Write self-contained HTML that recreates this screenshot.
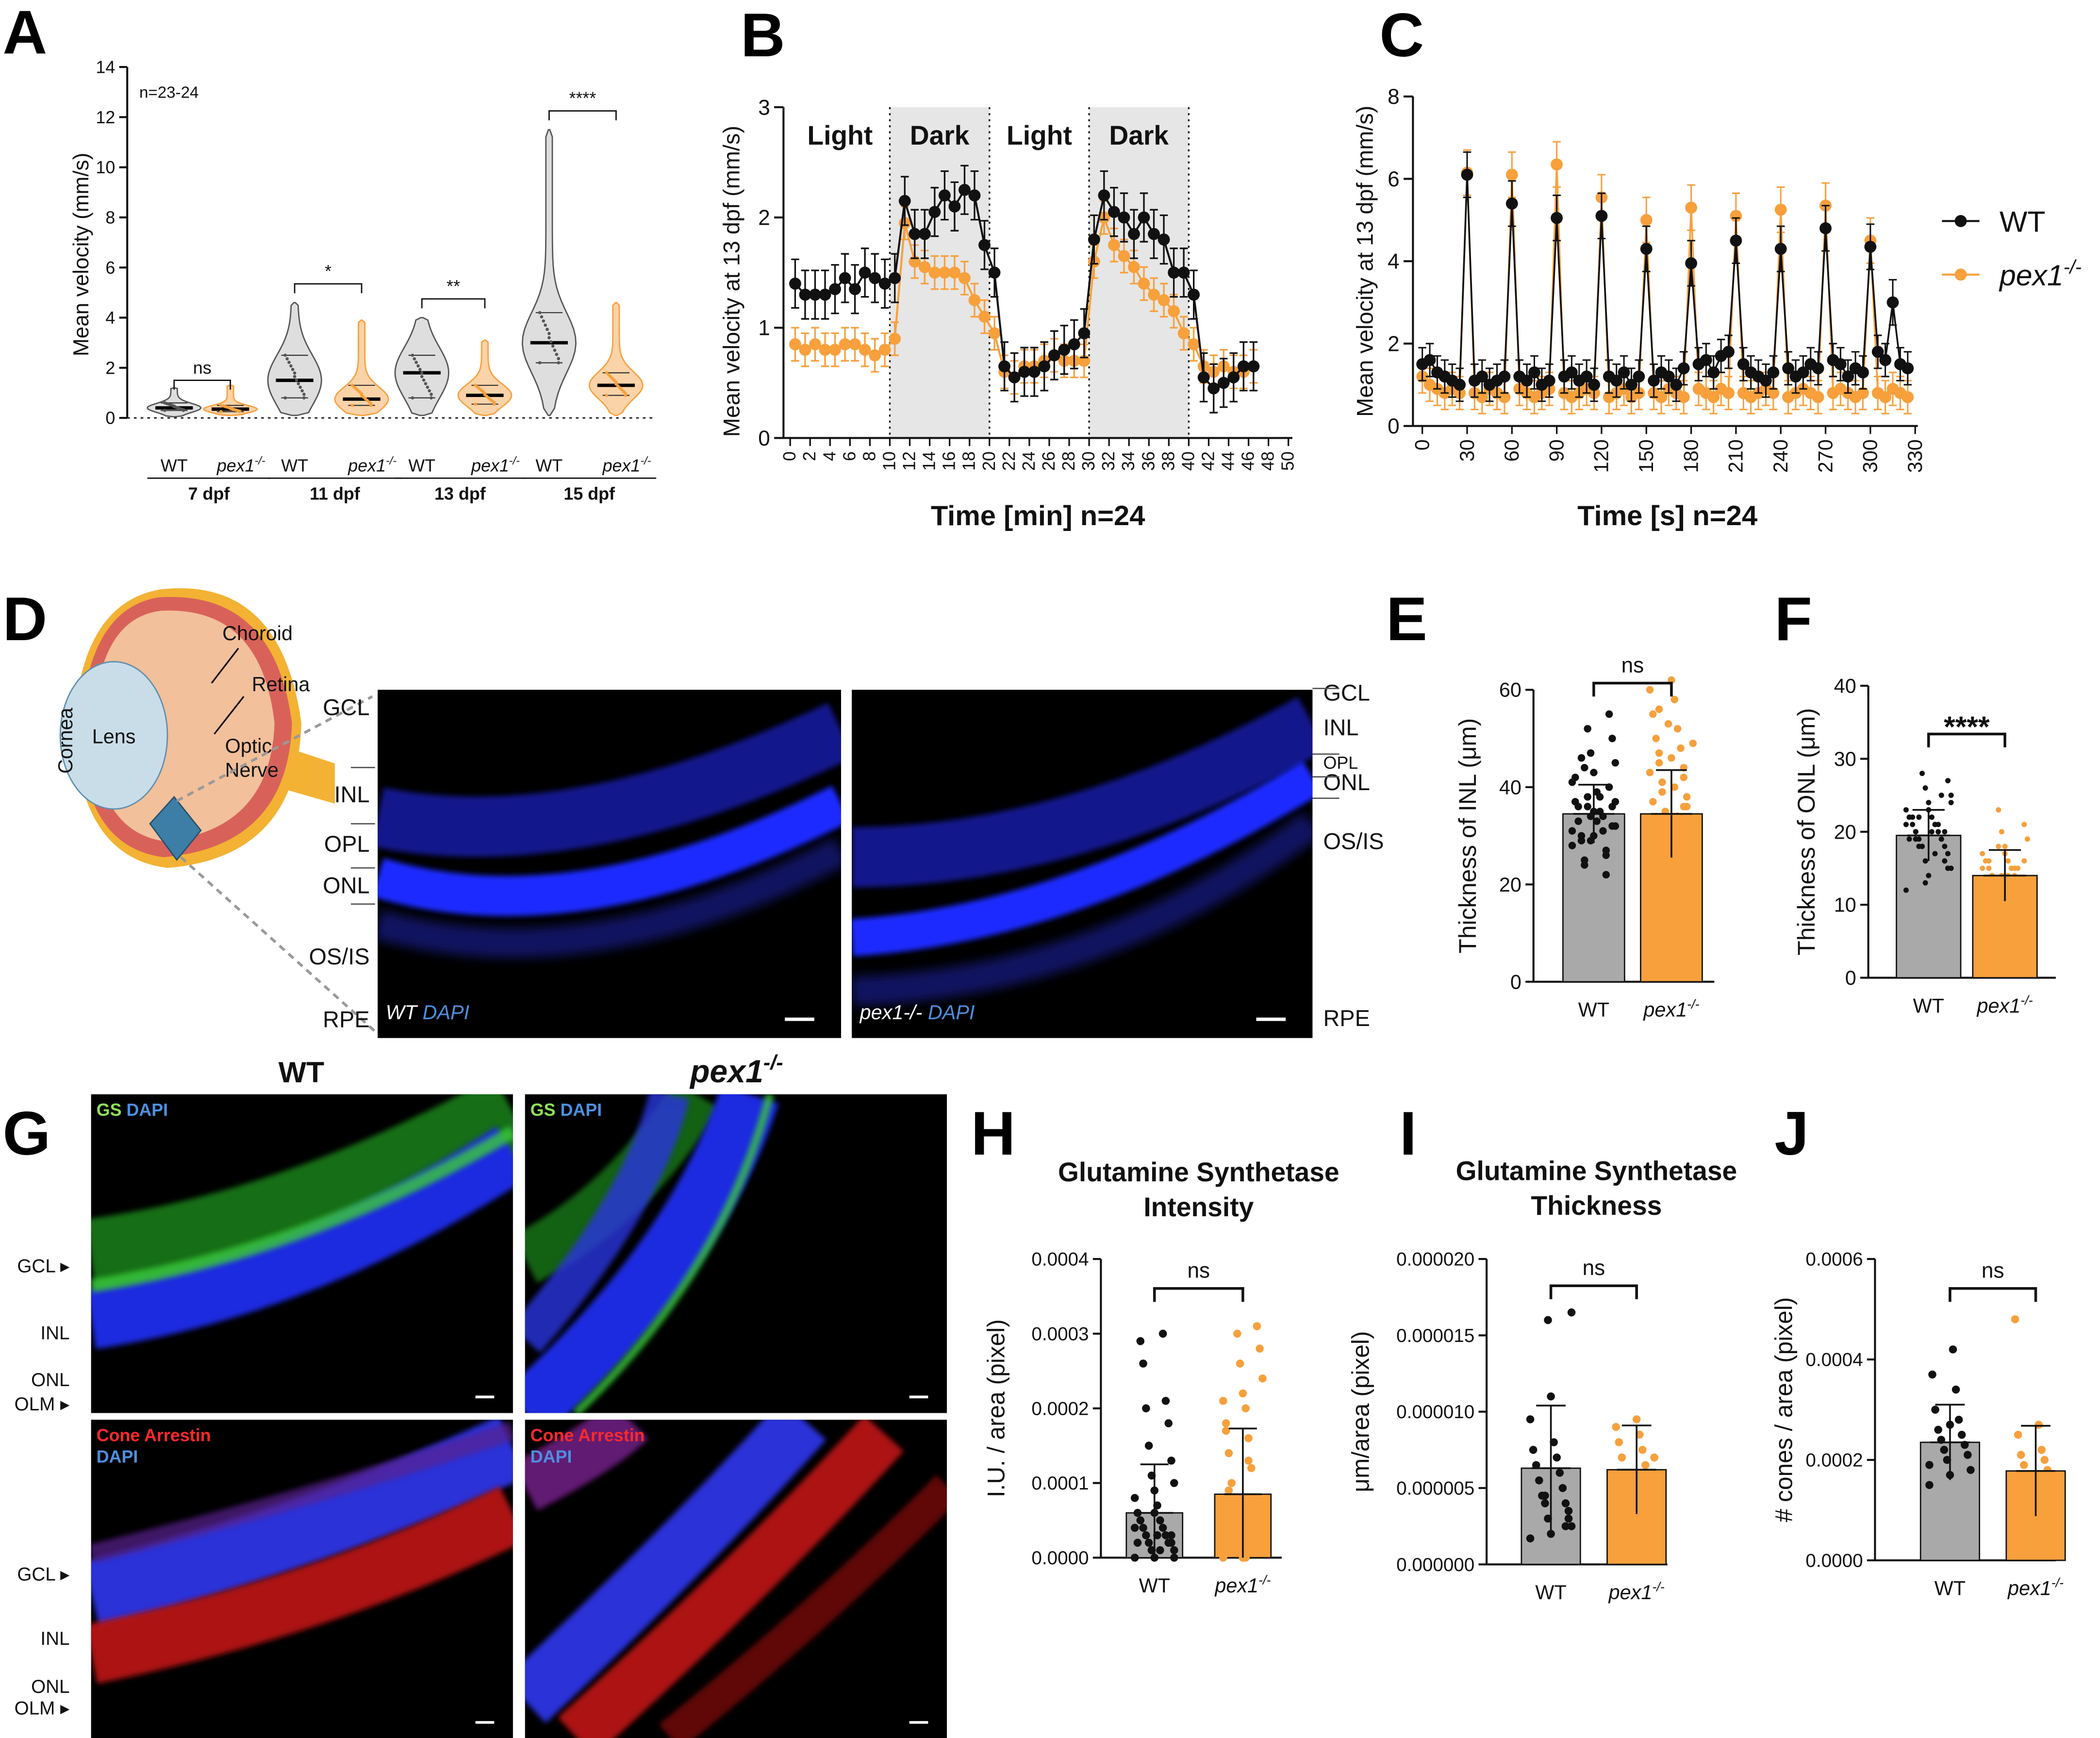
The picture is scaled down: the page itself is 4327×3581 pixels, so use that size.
<!DOCTYPE html>
<html><head><meta charset="utf-8"><style>
html,body{margin:0;padding:0;background:#fff}
svg{display:block}
text{font-family:"Liberation Sans",Arial,sans-serif}
</style></head><body>
<svg id="fig" width="4327" height="3581" viewBox="0 0 1568 1297.6" xmlns="http://www.w3.org/2000/svg">
<defs>
<filter id="blur2" filterUnits="userSpaceOnUse" x="0" y="0" width="1568" height="1298"><feGaussianBlur stdDeviation="2"/></filter>
<filter id="blur4" filterUnits="userSpaceOnUse" x="0" y="0" width="1568" height="1298"><feGaussianBlur stdDeviation="4"/></filter>
</defs>
<g id="root"></g>
</svg>
<script>
// ---------- DATA ----------
const aGroups=['WT','pex1','WT','pex1','WT','pex1','WT','pex1'];
const aDays=['7 dpf','11 dpf','13 dpf','15 dpf'];
const aMedian=[0.4,0.35,1.5,0.75,1.8,0.9,3.0,1.3];
const aQ1=[0.3,0.25,0.8,0.5,0.8,0.55,2.2,0.9];
const aQ3=[0.6,0.5,2.5,1.3,2.5,1.3,4.2,1.8];
const aMin=[0.05,0.1,0.1,0.1,0.1,0.1,0.1,0.1];
const aMax=[1.2,1.3,4.6,3.9,4.0,3.1,11.5,4.6];
const aSig=['ns','*','**','****'];
const aTicks=[0,2,4,6,8,10,12,14];
const bTicks=[0,1,2,3];
const bWT=[1.4,1.3,1.3,1.3,1.35,1.45,1.35,1.5,1.45,1.4,1.45,2.15,1.85,1.85,2.05,2.2,2.1,2.25,2.2,1.75,1.5,0.65,0.55,0.6,0.6,0.65,0.75,0.8,0.85,0.95,1.8,2.2,2.05,2.0,1.85,2.0,1.85,1.8,1.5,1.5,1.3,0.55,0.45,0.5,0.55,0.65,0.65];
const bPex=[0.85,0.8,0.85,0.8,0.8,0.85,0.85,0.8,0.75,0.8,0.9,1.95,1.6,1.55,1.5,1.5,1.5,1.45,1.25,1.1,0.95,0.6,0.55,0.65,0.65,0.7,0.75,0.7,0.7,0.7,1.6,2.0,1.75,1.65,1.55,1.4,1.3,1.25,1.15,0.95,0.85,0.65,0.6,0.65,0.6,0.6,0.65];
const bErrWT=0.22, bErrPex=0.15;
const bPhases=['Light','Dark','Light','Dark'];
const cTicks=[0,2,4,6,8];
const cWT=[1.5,1.6,1.3,1.2,1.1,1.0,6.1,1.1,1.2,1.0,1.1,1.2,5.4,1.2,1.1,1.3,1.0,1.1,5.05,1.2,1.3,1.1,1.2,1.0,5.1,1.2,1.1,1.3,1.0,1.2,4.3,1.1,1.3,1.2,1.0,1.4,3.95,1.5,1.6,1.3,1.7,1.8,4.5,1.5,1.3,1.2,1.1,1.3,4.3,1.4,1.2,1.3,1.5,1.4,4.8,1.6,1.5,1.2,1.4,1.3,4.35,1.8,1.6,3.0,1.5,1.4];
const cPex=[1.2,1.0,0.9,0.8,0.9,0.8,6.15,0.8,0.7,0.9,0.8,0.7,6.1,0.9,0.8,0.7,0.8,0.9,6.35,0.8,0.7,0.8,0.9,0.8,5.55,0.7,0.8,0.9,0.7,0.8,5.0,0.8,0.7,0.9,0.8,0.7,5.3,0.9,0.8,0.7,0.9,0.8,5.1,0.8,0.7,0.8,0.9,0.8,5.25,0.7,0.8,0.9,0.8,0.7,5.35,0.8,0.9,0.8,0.7,0.8,4.5,0.8,0.7,0.9,0.8,0.7];
const eMeans=[34.5,34.5], eSD=[6,9];
const ePtsWT=[28,30,32,34,36,38,40,25,27,29,31,33,35,37,39,41,43,45,47,50,52,55,24,26,30,34,36,38,42,33,31,35,37,29,32,36,40,44,22,46];
const ePtsPex=[20,22,25,28,30,33,36,39,42,45,48,50,52,55,58,60,62,24,27,31,35,38,41,44,47,29,32,34,37,40,43,46,49,53,18,21,26,30,36,56];
const fMeans=[19.5,14], fSD=[3.5,3.5];
const fPtsWT=[12,14,15,16,17,18,18,19,19,20,20,21,21,22,22,23,24,25,26,27,28,16,18,19,20,21,22,17,19,20,21,23,24,13,15,18,20,22,25,19];
const fPtsPex=[6,8,9,10,11,12,12,13,13,14,14,15,15,16,16,17,18,19,20,21,23,10,12,13,14,15,16,11,13,14,15,17,12,14,16,18,9,13,15,14];
const hMeans=[0.00006,0.000085], hSD=[0.000065,0.000088];
const hPtsWT=[0.0000,0.0000,0.00001,0.00001,0.00002,0.00002,0.00002,0.00003,0.00003,0.00004,0.00004,0.00005,0.00005,0.00006,0.00007,0.00008,0.00009,0.0001,0.00011,0.00013,0.00015,0.00018,0.0002,0.00021,0.00026,0.0003,0.00029,0.00001,0.00002,0.00003,0.00004,0.00006,0.0,0.00001,0.00003];
const hPtsPex=[0.0,0.0,0.00001,0.00002,0.00003,0.00004,0.00005,0.00006,0.00008,0.0001,0.00012,0.00014,0.00016,0.00018,0.0002,0.00021,0.00022,0.00024,0.00026,0.00028,0.0003,0.00031,0.00001,0.00002,0.00004,0.00006,0.00009,0.00013,0.00017,0.0,0.00003,0.00005];
const iMeans=[0.0000063,0.0000062], iSD=[0.0000041,0.0000029];
const iPtsWT=[0.0000017,0.000002,0.0000025,0.000003,0.0000035,0.000004,0.000004,0.0000045,0.000005,0.0000055,0.000006,0.0000065,0.000007,0.0000075,0.000008,0.0000095,0.000011,0.0000165,0.000016,0.000003,0.0000045,0.0000025];
const iPtsPex=[0.0000012,0.000002,0.0000025,0.000003,0.0000035,0.000004,0.0000045,0.000005,0.0000055,0.000006,0.0000065,0.000007,0.0000075,0.000008,0.0000085,0.000009,0.0000095,0.0000035,0.0000055,0.000007,0.0000045,0.000003];
const jMeans=[0.000235,0.000178], jSD=[0.000075,0.00009];
const jPtsWT=[0.00015,0.00017,0.00018,0.0002,0.00021,0.00022,0.00023,0.00024,0.00025,0.00026,0.00028,0.0003,0.00034,0.00037,0.00042,0.00019,0.00027];
const jPtsPex=[0.0001,0.00011,0.00012,0.00013,0.00014,0.00015,0.00016,0.00017,0.00018,0.00019,0.0002,0.00021,0.00022,0.00025,0.00027,0.00048,0.00013];

const NS='http://www.w3.org/2000/svg';
const root=document.getElementById('root');
function mk(tag,attrs,parent,txt){const e=document.createElementNS(NS,tag);for(const k in attrs)e.setAttribute(k,attrs[k]);if(txt!==undefined)e.textContent=txt;(parent||root).appendChild(e);return e;}
function grp(name,parent){const g=mk('g',{},parent);return g;}
const BLK='#111', ORG='#f7a03c';
function lin(d0,d1,r0,r1){return v=>r0+(v-d0)/(d1-d0)*(r1-r0);}
function pexLabel(g,x,y,fs,anchor){const t=mk('text',{x:x,y:y,'font-size':fs,'font-style':'italic','text-anchor':anchor||'middle',fill:'#111'},g);t.textContent='pex1';const s=mk('tspan',{'font-size':fs*0.65,dy:-fs*0.4},t);s.textContent='-/-';return t;}
function letter(ch,x,y){const t=mk('text',{x:x,y:y,'font-size':46,'font-weight':'bold',fill:'#000'});t.textContent=ch;}
function yAxis(g,x,y0,y1,ticks,sy,fmt,fs,tl){mk('line',{x1:x,y1:y0,x2:x,y2:y1,stroke:'#111','stroke-width':1.5},g);
 ticks.forEach(t=>{const y=sy(t);mk('line',{x1:x-(tl||6),y1:y,x2:x,y2:y,stroke:'#111','stroke-width':1.5},g);
 const tx=mk('text',{x:x-(tl||6)-3,y:y+fs*0.35,'font-size':fs,'text-anchor':'end',fill:'#111'},g,fmt(t));});}

letter('A',2,40);
(function(){
 const g=grp('panel-a-violin-chart');
 const sy=lin(0,14,312,50);
 yAxis(g,95,312,50,aTicks,sy,v=>v,13);
 const xs=[130,172,220,270,315,362,410,460];
 mk('line',{x1:95,y1:312,x2:490,y2:312,stroke:'#111','stroke-width':1,'stroke-dasharray':'2,3'},g);
 aMedian.forEach((m,i)=>{
  const vg=grp('violin-'+(i%2?'pex1-':'wt-')+aDays[i>>1].replace(' ','-'),g);
  const sig=Math.max((aQ3[i]-aQ1[i])*0.6,0.15);
  const L=[],R=[];const N=40;
  for(let k=0;k<=N;k++){const v=aMin[i]+(aMax[i]-aMin[i])*k/N;const w=20*(0.12+0.88*Math.exp(-Math.pow((v-m)/sig,2)/2))*(k==0||k==N?0.2:1);L.push([xs[i]-w,sy(v)]);R.push([xs[i]+w,sy(v)]);}
  const pts=L.concat(R.reverse()).map(p=>p.join(',')).join(' ');
  mk('polygon',{points:pts,fill:i%2?'#fbd3a8':'#dedede',stroke:i%2?ORG:'#555','stroke-width':1},vg);
  mk('line',{x1:xs[i]-14,y1:sy(m),x2:xs[i]+14,y2:sy(m),stroke:'#000','stroke-width':2.5},vg);
  [aQ1[i],aQ3[i]].forEach(q=>mk('line',{x1:xs[i]-10,y1:sy(q),x2:xs[i]+10,y2:sy(q),stroke:'#333','stroke-width':0.8},vg));
  for(let k=0;k<14;k++){const v=aQ1[i]+(aQ3[i]-aQ1[i])*((k*7)%13)/12;mk('circle',{cx:xs[i]+((k*5)%11-5)*1.4,cy:sy(v),r:1.2,fill:i%2?ORG:'#555'},vg);}
 });
 aDays.forEach((d,j)=>{
  const x0=xs[2*j],x1=xs[2*j+1];
  const top=sy(aMax[2*j]>aMax[2*j+1]?aMax[2*j]:aMax[2*j+1])-14;
  const yy=j==0?sy(1.5):top;
  mk('path',{d:`M${x0} ${yy+7}V${yy}H${x1}V${yy+7}`,fill:'none',stroke:'#111','stroke-width':1},g);
  mk('text',{x:(x0+x1)/2,y:yy-5,'font-size':13,'text-anchor':'middle',fill:'#111'},g,aSig[j]);
  mk('text',{x:x0,y:352,'font-size':13,'text-anchor':'middle',fill:'#111'},g,'WT');
  pexLabel(g,x1+8,352,13);
  mk('line',{x1:x0-20,y1:357,x2:x1+30,y2:357,stroke:'#111','stroke-width':1},g);
  mk('text',{x:(x0+x1)/2+5,y:373,'font-size':13,'font-weight':'bold','text-anchor':'middle',fill:'#111'},g,aDays[j]);
 });
 mk('text',{x:104,y:73,'font-size':12,fill:'#111'},g,'n=23-24');
 const yt=mk('text',{x:0,y:0,'font-size':16,'text-anchor':'middle',fill:'#111',transform:'translate(66,190) rotate(-90)'},g,'Mean velocity (mm/s)');
 
})();

letter('B',553,42);
(function(){
 const g=grp('panel-b-light-dark-chart');
 const sx=lin(0,50,590,962), sy=lin(0,3,327,80);
 [[10,20],[30,40]].forEach(p=>mk('rect',{x:sx(p[0]),y:80,width:sx(p[1])-sx(p[0]),height:247,fill:'#e6e6e6'},g));
 [10,20,30,40].forEach(t=>mk('line',{x1:sx(t),y1:80,x2:sx(t),y2:327,stroke:'#111','stroke-width':1.2,'stroke-dasharray':'1.5,3'},g));
 yAxis(g,585,327,80,bTicks,sy,v=>v,16,7);
 mk('line',{x1:585,y1:327,x2:965,y2:327,stroke:'#111','stroke-width':1.5},g);
 for(let t=0;t<=50;t+=2){mk('line',{x1:sx(t),y1:327,x2:sx(t),y2:333,stroke:'#111','stroke-width':1.2},g);
  mk('text',{x:0,y:0,'font-size':13,'text-anchor':'end',fill:'#111',transform:`translate(${sx(t)+4},337) rotate(-90)`},g,t);}
 bPhases.forEach((p,i)=>{const t=mk('text',{x:sx(5+10*i),y:108,'font-size':20,'font-weight':'bold','text-anchor':'middle',fill:'#111'},g,p);});
 function series(arr,err,col,name){const sg=grp(name,g);
  mk('polyline',{points:arr.map((v,i)=>sx(i+0.5)+','+sy(v)).join(' '),fill:'none',stroke:col,'stroke-width':1.5},sg);
  arr.forEach((v,i)=>{const x=sx(i+0.5);mk('path',{d:`M${x} ${sy(v-err)}V${sy(v+err)}M${x-3} ${sy(v-err)}h6M${x-3} ${sy(v+err)}h6`,stroke:col,'stroke-width':1.2,fill:'none'},sg);
   mk('circle',{cx:x,cy:sy(v),r:4.5,fill:col},sg);});}
 series(bPex,bErrPex,ORG,'series-pex1');
 series(bWT,bErrWT,BLK,'series-wt');
 mk('text',{x:0,y:0,'font-size':17,'text-anchor':'middle',fill:'#111',transform:'translate(552,210) rotate(-90)'},g,'Mean velocity at 13 dpf (mm/s)');
 mk('text',{x:775,y:392,'font-size':21,'font-weight':'bold','text-anchor':'middle',fill:'#111'},g,'Time [min]  n=24');
})();

letter('C',1030,42);
(function(){
 const g=grp('panel-c-velocity-time-chart');
 const sx=lin(0,330,1062,1430), sy=lin(0,8,318,72);
 yAxis(g,1055,318,72,cTicks,sy,v=>v,16,7);
 mk('line',{x1:1055,y1:318,x2:1432,y2:318,stroke:'#111','stroke-width':1.5},g);
 for(let t=0;t<=330;t+=30){mk('line',{x1:sx(t),y1:318,x2:sx(t),y2:324,stroke:'#111','stroke-width':1.2},g);
  mk('text',{x:0,y:0,'font-size':15,'text-anchor':'end',fill:'#111',transform:`translate(${sx(t)+5},328) rotate(-90)`},g,t);}
 function series(arr,col,name,off){const sg=grp(name,g);
  mk('polyline',{points:arr.map((v,i)=>sx(i*5+off)+','+sy(v)).join(' '),fill:'none',stroke:col,'stroke-width':1.3},sg);
  arr.forEach((v,i)=>{const x=sx(i*5+off),e=v>2.5?0.55:0.4;mk('path',{d:`M${x} ${sy(v-e)}V${sy(v+e)}M${x-3} ${sy(v-e)}h6M${x-3} ${sy(v+e)}h6`,stroke:col,'stroke-width':1.1,fill:'none'},sg);
   mk('circle',{cx:x,cy:sy(v),r:4.5,fill:col},sg);});}
 series(cPex,ORG,'series-pex1',0);
 series(cWT,BLK,'series-wt',0);
 mk('text',{x:0,y:0,'font-size':17,'text-anchor':'middle',fill:'#111',transform:'translate(1025,195) rotate(-90)'},g,'Mean velocity at 13 dpf (mm/s)');
 mk('text',{x:1245,y:392,'font-size':21,'font-weight':'bold','text-anchor':'middle',fill:'#111'},g,'Time [s]  n=24');
 const l1=grp('legend-entry-wt',g);mk('line',{x1:1450,y1:165,x2:1478,y2:165,stroke:BLK,'stroke-width':1.5},l1);mk('circle',{cx:1464,cy:165,r:4.5,fill:BLK},l1);mk('text',{x:1493,y:173,'font-size':22,fill:'#111'},l1,'WT');
 const l2=grp('legend-entry-pex1',g);mk('line',{x1:1450,y1:205,x2:1478,y2:205,stroke:ORG,'stroke-width':1.5},l2);mk('circle',{cx:1464,cy:205,r:4.5,fill:ORG},l2);pexLabel(l2,1493,213,22,'start');
})();

letter('D',2,478);
(function(){
 const g=grp('panel-d-retina-images');
 const eye=grp('eye-illustration',g);
 mk('path',{d:'M120 440 Q210 430 225 540 Q222 640 125 648 Q60 640 55 545 Q60 450 120 440Z',fill:'#f3b233'},eye);
 mk('path',{d:'M118 446 Q205 440 218 540 Q215 632 122 640 Q62 632 60 545 Q65 455 118 446Z',fill:'#d8625a'},eye);
 mk('path',{d:'M120 456 Q195 452 205 540 Q202 620 122 628 Q72 620 70 545 Q72 462 120 456Z',fill:'#f2c09a'},eye);
 mk('path',{d:'M220 560 L250 570 L250 600 L215 590Z',fill:'#f3b233'},eye);
 mk('ellipse',{cx:85,cy:549,rx:40,ry:55,fill:'#c9dde9',stroke:'#5f8fb0','stroke-width':1},eye);
 mk('text',{x:85,y:555,'font-size':15,'text-anchor':'middle',fill:'#111'},eye,'Lens');
 mk('text',{x:0,y:0,'font-size':15,'text-anchor':'middle',fill:'#111',transform:'translate(54,553) rotate(-90)'},eye,'Cornea');
 mk('text',{x:166,y:478,'font-size':15,fill:'#111'},eye,'Choroid');
 mk('text',{x:188,y:516,'font-size':15,fill:'#111'},eye,'Retina');
 mk('text',{x:168,y:562,'font-size':15,fill:'#111'},eye,'Optic');
 mk('text',{x:168,y:580,'font-size':15,fill:'#111'},eye,'Nerve');
 mk('path',{d:'M178 484 L158 510 M182 520 L160 548',stroke:'#111','stroke-width':1.2},eye);
 mk('path',{d:'M112 615 L130 595 L150 620 L132 642Z',fill:'#3d7ea6',stroke:'#23506e'},eye);
 mk('path',{d:'M132 598 L278 520 M135 640 L280 770',stroke:'#999','stroke-width':2,'stroke-dasharray':'5,4'},g);
 const labs=[['GCL',534],['INL',599],['OPL',636],['ONL',667],['OS/IS',720],['RPE',767]];
 labs.forEach(l=>mk('text',{x:276,y:l[1],'font-size':17,'text-anchor':'end',fill:'#111'},g,l[0]));
 [573,615,648,675].forEach(y=>mk('line',{x1:262,y1:y,x2:280,y2:y,stroke:'#555','stroke-width':1},g));
 const labs2=[['GCL',523],['INL',549],['OPL',574],['ONL',590],['OS/IS',634],['RPE',766]];
 labs2.forEach(l=>mk('text',{x:988,y:l[1],'font-size':l[0]=='OPL'?13:17,fill:'#111'},g,l[0]));
 [514,563,580,596].forEach(y=>mk('line',{x1:980,y1:y,x2:1000,y2:y,stroke:'#555','stroke-width':1},g));
 function img(x,y,w,h,name,paths,lab){const ig=grp(name,g);mk('rect',{x:x,y:y,width:w,height:h,fill:'#000'},ig);
  const cp=mk('clipPath',{id:'c'+name},ig);mk('rect',{x:x,y:y,width:w,height:h},cp);const inner=mk('g',{'clip-path':`url(#c${name})`},ig);
  paths.forEach(p=>mk('path',{d:p[0],fill:'none',stroke:p[1],'stroke-width':p[2],opacity:p[3]||1,filter:p[4]||''},inner));
  mk('line',{x1:x+w-42,y1:y+h-14,x2:x+w-20,y2:y+h-14,stroke:'#fff','stroke-width':2.5},ig);
  const t=mk('text',{x:x+6,y:y+h-14,'font-size':15,'font-style':'italic',fill:'#fff'},ig,lab+' ');const s=mk('tspan',{fill:'#4d8fe0'},t);s.textContent='DAPI';}
 img(282,515,346,260,'wt-dapi-image',[
  ['M282 610 Q430 640 628 545','#1a22c8',45,0.7,'url(#blur2)'],
  ['M282 655 Q430 700 628 600','#1f2cff',30,1,'url(#blur2)'],
  ['M282 690 Q440 735 628 635','#1a20a0',22,0.6,'url(#blur4)']],'WT');
 img(636,515,344,260,'pex1-dapi-image',[
  ['M636 640 Q800 640 980 540','#1a22c8',45,0.7,'url(#blur2)'],
  ['M636 700 Q800 690 980 580','#1f2cff',28,1,'url(#blur2)'],
  ['M636 740 Q820 735 980 615','#1a20a0',22,0.6,'url(#blur4)']],'pex1-/-');
})();

function barChart(opts){
 const g=grp(opts.name);
 const sy=lin(0,opts.max,opts.y0,opts.y1);
 yAxis(g,opts.x,opts.y0,opts.y1,opts.ticks,sy,opts.fmt,opts.fs,6);
 mk('line',{x1:opts.x,y1:opts.y0,x2:opts.x+opts.w,y2:opts.y0,stroke:'#111','stroke-width':1.5},g);
 const cols=[['#a9a9a9',BLK],[ORG,ORG]];
 opts.means.forEach((m,i)=>{const bx=opts.bx[i],bw=opts.bw;const bg=grp(i?'bar-pex1':'bar-wt',g);
  mk('rect',{x:bx-bw/2,y:sy(m),width:bw,height:opts.y0-sy(m),fill:cols[i][0],stroke:'#111','stroke-width':1},bg);
  const pts=i?opts.pex:opts.wt;
  pts.forEach((v,k)=>mk('circle',{cx:bx+((k*7)%15-7)*bw/20,cy:sy(v),r:opts.r,fill:cols[i][1]},bg));
  const e=opts.sd[i];mk('path',{d:`M${bx} ${sy(Math.max(0,m-e))}V${sy(m+e)}M${bx-bw/4} ${sy(m+e)}h${bw/2}`,stroke:'#111','stroke-width':1.3,fill:'none'},bg);
  mk('line',{x1:bx-bw/3,y1:sy(m),x2:bx+bw/3,y2:sy(m),stroke:'#111','stroke-width':1.3},bg);
 });
 const yb=opts.brY;mk('path',{d:`M${opts.bx[0]} ${yb+10}V${yb}H${opts.bx[1]}V${yb+10}`,fill:'none',stroke:'#111','stroke-width':2},g);
 mk('text',{x:(opts.bx[0]+opts.bx[1])/2,y:yb-8+(opts.sig=='****'?10:0),'font-size':opts.sig=='****'?22:16,'font-weight':opts.sig=='****'?'bold':'normal','text-anchor':'middle',fill:'#111'},g,opts.sig);
 mk('text',{x:opts.bx[0],y:opts.y0+26,'font-size':15,'text-anchor':'middle',fill:'#111'},g,'WT');
 pexLabel(g,opts.bx[1],opts.y0+26,15);
 mk('text',{x:0,y:0,'font-size':opts.tfs||18,'text-anchor':'middle',fill:'#111',transform:`translate(${opts.tx},${(opts.y0+opts.y1)/2}) rotate(-90)`},g,opts.title);
 if(opts.head){opts.head.forEach((h,k)=>mk('text',{x:opts.hx,y:opts.hy+k*26,'font-size':20,'font-weight':'bold','text-anchor':'middle',fill:'#111'},g,h));}
}
letter('E',1035,478);letter('F',1325,478);
barChart({name:'panel-e-inl-thickness',x:1145,y0:733,y1:515,max:60,ticks:[0,20,40,60],fmt:v=>v,fs:15,w:135,bx:[1190,1248],bw:46,means:eMeans,sd:eSD,wt:ePtsWT,pex:ePtsPex,r:2.8,brY:510,sig:'ns',title:'Thickness of INL (μm)',tx:1102});
barChart({name:'panel-f-onl-thickness',x:1395,y0:730,y1:512,max:40,ticks:[0,10,20,30,40],fmt:v=>v,fs:15,w:140,bx:[1440,1497],bw:48,means:fMeans,sd:fSD,wt:fPtsWT,pex:fPtsPex,r:2,brY:548,sig:'****',title:'Thickness of ONL (μm)',tx:1355});
letter('H',725,862);letter('I',1045,862);letter('J',1325,862);
barChart({name:'panel-h-gs-intensity',x:822,y0:1163,y1:940,max:0.0004,ticks:[0,0.0001,0.0002,0.0003,0.0004],fmt:v=>v.toFixed(4),fs:14,w:135,bx:[862,928],bw:42,means:hMeans,sd:hSD,wt:hPtsWT,pex:hPtsPex,r:3,brY:962,sig:'ns',title:'I.U. / area (pixel)',tx:750,head:['Glutamine Synthetase','Intensity'],hx:895,hy:882});
barChart({name:'panel-i-gs-thickness',x:1110,y0:1168,y1:940,max:0.00002,ticks:[0,0.000005,0.00001,0.000015,0.00002],fmt:v=>v.toFixed(6),fs:14,w:135,bx:[1158,1222],bw:44,means:iMeans,sd:iSD,wt:iPtsWT,pex:iPtsPex,r:3,brY:960,sig:'ns',title:'μm/area (pixel)',tx:1022,head:['Glutamine Synthetase','Thickness'],hx:1192,hy:881});
barChart({name:'panel-j-cone-density',x:1400,y0:1165,y1:940,max:0.0006,ticks:[0,0.0002,0.0004,0.0006],fmt:v=>v.toFixed(4),fs:14,w:135,bx:[1456,1520],bw:44,means:jMeans,sd:jSD,wt:jPtsWT,pex:jPtsPex,r:3,brY:962,sig:'ns',title:'# cones / area (pixel)',tx:1338});

letter('G',2,862);
(function(){
 const g=grp('panel-g-immunostaining');
 mk('text',{x:225,y:808,'font-size':22,'font-weight':'bold','text-anchor':'middle',fill:'#111'},g,'WT');
 pexLabel(g,550,808,24);g.lastChild.setAttribute('font-weight','bold');
 function img(x,y,name,paths,l1,c1,l2){const ig=grp(name,g);const w=315,h=238;mk('rect',{x:x,y:y,width:w,height:h,fill:'#000'},ig);
  const cp=mk('clipPath',{id:'c'+name},ig);mk('rect',{x:x,y:y,width:w,height:h},cp);const inner=mk('g',{'clip-path':`url(#c${name})`},ig);
  paths.forEach(p=>mk('path',{d:p[0],fill:'none',stroke:p[1],'stroke-width':p[2],opacity:p[3]||1,filter:'url(#blur2)'},inner));
  mk('line',{x1:x+w-28,y1:y+h-12,x2:x+w-14,y2:y+h-12,stroke:'#fff','stroke-width':2},ig);
  const t=mk('text',{x:x+4,y:y+16,'font-size':13,'font-weight':'bold',fill:c1},ig,l1+' ');
  if(l2==='inline'){const s=mk('tspan',{fill:'#4d8fe0'},t);s.textContent='DAPI';}
  else{mk('text',{x:x+4,y:y+32,'font-size':13,'font-weight':'bold',fill:'#4d8fe0'},ig,'DAPI');}}
 img(68,817,'wt-gs-image',[['M68 940 Q220 920 383 830','#1d8a1d',60,0.8],['M68 985 Q230 960 383 860','#1f2ae0',45,1],['M68 960 Q230 935 383 845','#3acb3a',10,0.8]],'GS','#8ee05a','inline');
 img(392,817,'pex1-gs-image',[['M392 940 Q470 900 520 817','#1d8a1d',40,0.7],['M392 1055 Q520 940 560 817','#1f2ae0',45,1],['M392 1000 Q480 900 500 817','#2a36e0',30,0.8],['M430 1055 Q540 950 575 817','#3acb3a',6,0.8]],'GS','#8ee05a','inline');
 img(68,1060,'wt-arrestin-image',[['M68 1190 Q230 1150 383 1080','#2a30d8',50,1],['M68 1235 Q240 1200 383 1130','#c01818',45,0.9],['M68 1160 Q230 1120 383 1068','#5a2090',14,0.7]],'Cone Arrestin','#ff2a2a','below');
 img(392,1060,'pex1-arrestin-image',[['M392 1110 Q450 1080 470 1060','#7a2090',40,0.8],['M392 1270 Q520 1150 600 1060','#2a30d8',45,1],['M430 1297 Q560 1180 660 1070','#c01818',40,0.9],['M500 1297 Q620 1200 708 1110','#a01010',25,0.6]],'Cone Arrestin','#ff2a2a','below');
 [['GCL',950],['INL',1000],['ONL',1035],['OLM',1053],['GCL',1180],['INL',1228],['ONL',1264],['OLM',1280]].forEach(l=>mk('text',{x:52,y:l[1],'font-size':14,'text-anchor':'end',fill:'#111'},g,l[0]+(l[0]=='GCL'||l[0]=='OLM'?' ▸':'')));
})();
</script>
</body></html>
